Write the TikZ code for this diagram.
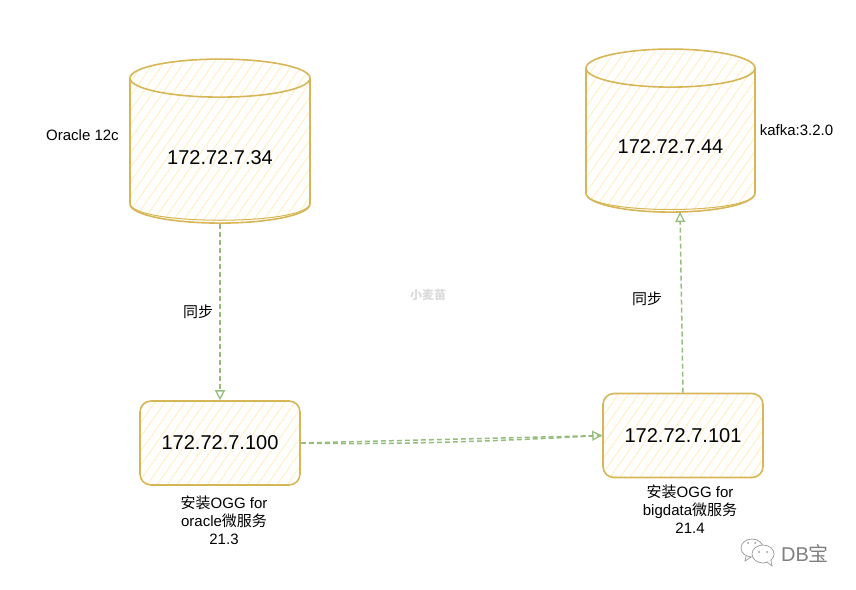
\documentclass[tikz,border=0pt]{standalone}
\usepackage{fontspec}
\setmainfont{Liberation Sans}
\newfontfamily\cjk{Noto Sans CJK SC}
\usetikzlibrary{arrows.meta,shapes.geometric}
\definecolor{boxline}{HTML}{D6B656}
\definecolor{boxhatch}{HTML}{FFF2CC}
\definecolor{edgeline}{HTML}{82B366}
\newcommand{\dbtext}[1]{\raisebox{-6pt}[14pt][0pt]{#1}}
\tikzset{
  hatched/.style={draw=boxline, line width=1.6pt, path picture={
    \foreach \hx in {-280,-270,...,280}
      \draw[boxhatch, line width=1.2pt] (\hx-70,100) -- (\hx+70,-100);
  }},
  dbnode/.style={hatched, shape=cylinder, shape border rotate=90, aspect=0.36, inner sep=0pt, font=\fontsize{20}{24}\selectfont},
  hostnode/.style={hatched, rectangle, rounded corners=11pt, minimum width=160pt, minimum height=84pt, inner sep=0pt, font=\fontsize{20}{24}\selectfont},
  note/.style={font=\fontsize{15}{18}\selectfont, align=center, inner sep=0pt},
  syncedge/.style={edgeline!85, line width=1.5pt, dash pattern=on 5pt off 3pt, -{Triangle[open,length=10pt,width=10pt,line width=1.3pt]}},
  chatline/.style={black!40, line width=.7pt, fill=white},
}
\begin{document}
\begin{tikzpicture}[x=1pt,y=-1pt]
  \useasboundingbox (0,0) rectangle (856,589);
  % databases
  \node[dbnode, minimum width=180pt, minimum height=164pt] (oradb) at (220,151) {\dbtext{172.72.7.34}};
  \node[dbnode, minimum width=169pt, minimum height=163pt] (kafkadb) at (670.5,140.5) {\dbtext{172.72.7.44}};
  \draw[boxline, line width=1pt] (130,203) .. controls (130,226) and (310,226) .. (310,203);
  \draw[boxline, line width=1pt] (586,193) .. controls (586,215) and (755,215) .. (755,193);
  % hosts
  \node[hostnode] (orahost) at (220,443) {172.72.7.100};
  \node[hostnode] (bighost) at (683,435.5) {172.72.7.101};
  \coordinate (kafkain) at (680,212);
  % links
  \draw[syncedge] (oradb.south) -- (orahost.north);
  \draw[syncedge] (orahost.east) -- (bighost.west);
  \draw[edgeline!85, line width=1.5pt, dash pattern=on 5pt off 3pt] (orahost.east) .. controls (400,445) and (500,441) .. (bighost.west);
  \draw[syncedge] (bighost.north) -- (kafkain);
  % labels
  \node[note] (oralabel) at (82.5,135) {Oracle 12c};
  \node[note] (kafkalabel) at (796.5,130) {kafka:3.2.0};
  \node[note] (syncleft) at (198,312) {\cjk 同步};
  \node[note] (syncright) at (647,299) {\cjk 同步};
  \node[note] (oranote) at (224,520) {{\cjk 安装}OGG for\\oracle{\cjk 微服务}\\21.3};
  \node[note] (bignote) at (690,509) {{\cjk 安装}OGG for\\bigdata{\cjk 微服务}\\21.4};
  % watermarks
  \node[font=\fontsize{12}{14}\selectfont\cjk\bfseries, text=black!14, inner sep=0pt] (mark) at (428,295) {小麦苗};
  \node[font=\fontsize{20}{22}\selectfont, text=black!50, inner sep=0pt] (dbmark) at (805,554) {DB{\cjk 宝}};
  \draw[chatline] (752,548) ellipse (11 and 9);
  \draw[black!40, line width=.7pt] (746,556) -- (745,561) -- (751,557);
  \draw[chatline] (763,554) ellipse (11 and 9);
  \draw[black!40, line width=.7pt, fill=white] (767,562) -- (772,566) -- (771,560);
  \foreach \ex/\ey in {748/543,755/543,759/552,767/552}
    \fill[black!40] (\ex,\ey) circle (1);
\end{tikzpicture}
\end{document}
